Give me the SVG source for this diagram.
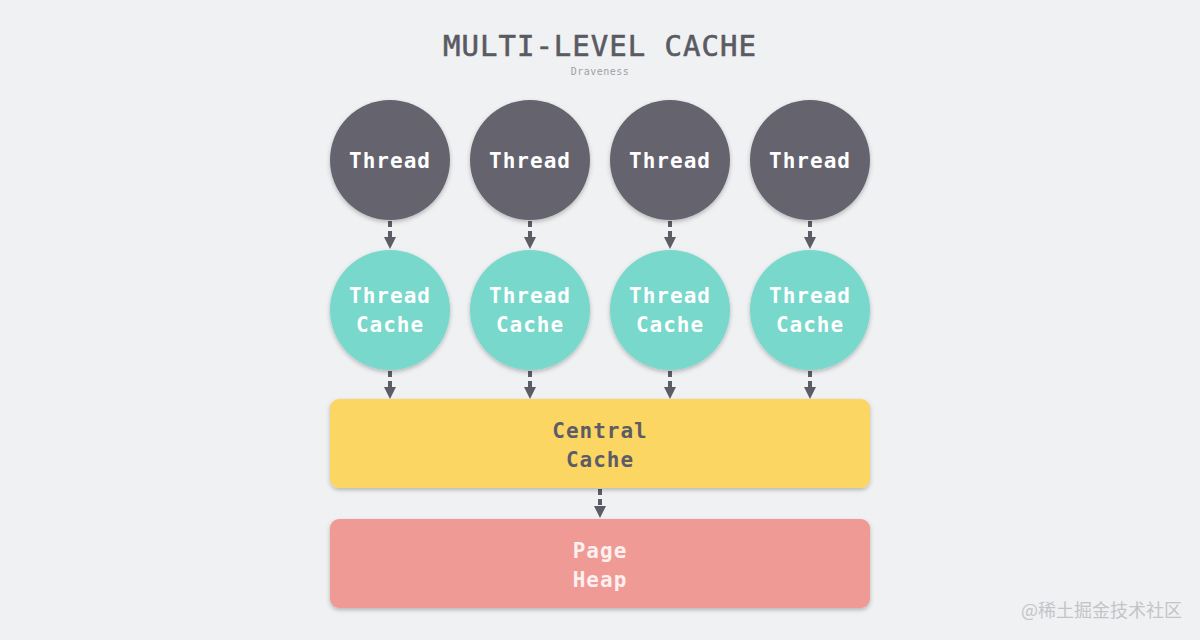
<svg xmlns="http://www.w3.org/2000/svg" width="1200" height="640" viewBox="0 0 1200 640">
<defs>
<marker id="ah" markerWidth="12" markerHeight="12" refX="6" refY="6" orient="auto" markerUnits="userSpaceOnUse"><path d="M0,0 L12,6 L0,12 z" fill="#5d5c66"/></marker>
<filter id="sh" x="-20%" y="-20%" width="140%" height="140%"><feDropShadow dx="0" dy="2" stdDeviation="2" flood-color="#000" flood-opacity="0.25"/></filter>
</defs>
<style>
.t{font-family:"DejaVu Sans Mono","Liberation Mono",monospace;font-weight:bold;font-size:21px;text-anchor:middle;letter-spacing:1px}
.th{fill:#65646e;filter:url(#sh)}
.tc{fill:#78d8cb;filter:url(#sh)}
.c{stroke:#5d5c66;stroke-width:4;stroke-dasharray:6 4;fill:none;marker-end:url(#ah)}
</style>
<rect width="1200" height="640" fill="#f0f1f3"/>
<text x="600" y="56" font-family="DejaVu Sans Mono, monospace" font-size="29" fill="#5a5a62" stroke="#5a5a62" stroke-width="0.6" text-anchor="middle" letter-spacing="1">MULTI-LEVEL CACHE</text>
<text x="600" y="75" font-family="DejaVu Sans Mono, monospace" font-size="10" fill="#a0a0a6" text-anchor="middle" letter-spacing="0.5">Draveness</text>
<g id="connectors">
<path class="c" d="M390,221 V243"/><path class="c" d="M530,221 V243"/><path class="c" d="M670,221 V243"/><path class="c" d="M810,221 V243"/>
<path class="c" d="M390,371 V393"/><path class="c" d="M530,371 V393"/><path class="c" d="M670,371 V393"/><path class="c" d="M810,371 V393"/>
<path class="c" d="M600,489 V512"/>
</g>
<g id="thread1"><circle class="th" cx="390" cy="160" r="60"/><text class="t" x="390" y="168" fill="#fff">Thread</text></g>
<g id="thread2"><circle class="th" cx="530" cy="160" r="60"/><text class="t" x="530" y="168" fill="#fff">Thread</text></g>
<g id="thread3"><circle class="th" cx="670" cy="160" r="60"/><text class="t" x="670" y="168" fill="#fff">Thread</text></g>
<g id="thread4"><circle class="th" cx="810" cy="160" r="60"/><text class="t" x="810" y="168" fill="#fff">Thread</text></g>
<g id="tc1"><circle class="tc" cx="390" cy="310" r="60"/><text class="t" x="390" y="303" fill="#fff">Thread</text><text class="t" x="390" y="332" fill="#fff">Cache</text></g>
<g id="tc2"><circle class="tc" cx="530" cy="310" r="60"/><text class="t" x="530" y="303" fill="#fff">Thread</text><text class="t" x="530" y="332" fill="#fff">Cache</text></g>
<g id="tc3"><circle class="tc" cx="670" cy="310" r="60"/><text class="t" x="670" y="303" fill="#fff">Thread</text><text class="t" x="670" y="332" fill="#fff">Cache</text></g>
<g id="tc4"><circle class="tc" cx="810" cy="310" r="60"/><text class="t" x="810" y="303" fill="#fff">Thread</text><text class="t" x="810" y="332" fill="#fff">Cache</text></g>
<g id="central"><rect x="330" y="399" width="540" height="89" rx="9" fill="#fbd664" filter="url(#sh)"/><text class="t" x="600" y="438" fill="#5d5c66">Central</text><text class="t" x="600" y="467" fill="#5d5c66">Cache</text></g>
<g id="pageheap"><rect x="330" y="519" width="540" height="89" rx="9" fill="#f09a95" filter="url(#sh)"/><text class="t" x="600" y="558" fill="#fdf0ef">Page</text><text class="t" x="600" y="587" fill="#fdf0ef">Heap</text></g>
<text x="1182" y="617" font-family="Noto Sans CJK SC, sans-serif" font-size="18" fill="#c4c4c8" text-anchor="end">@稀土掘金技术社区</text>
</svg>
